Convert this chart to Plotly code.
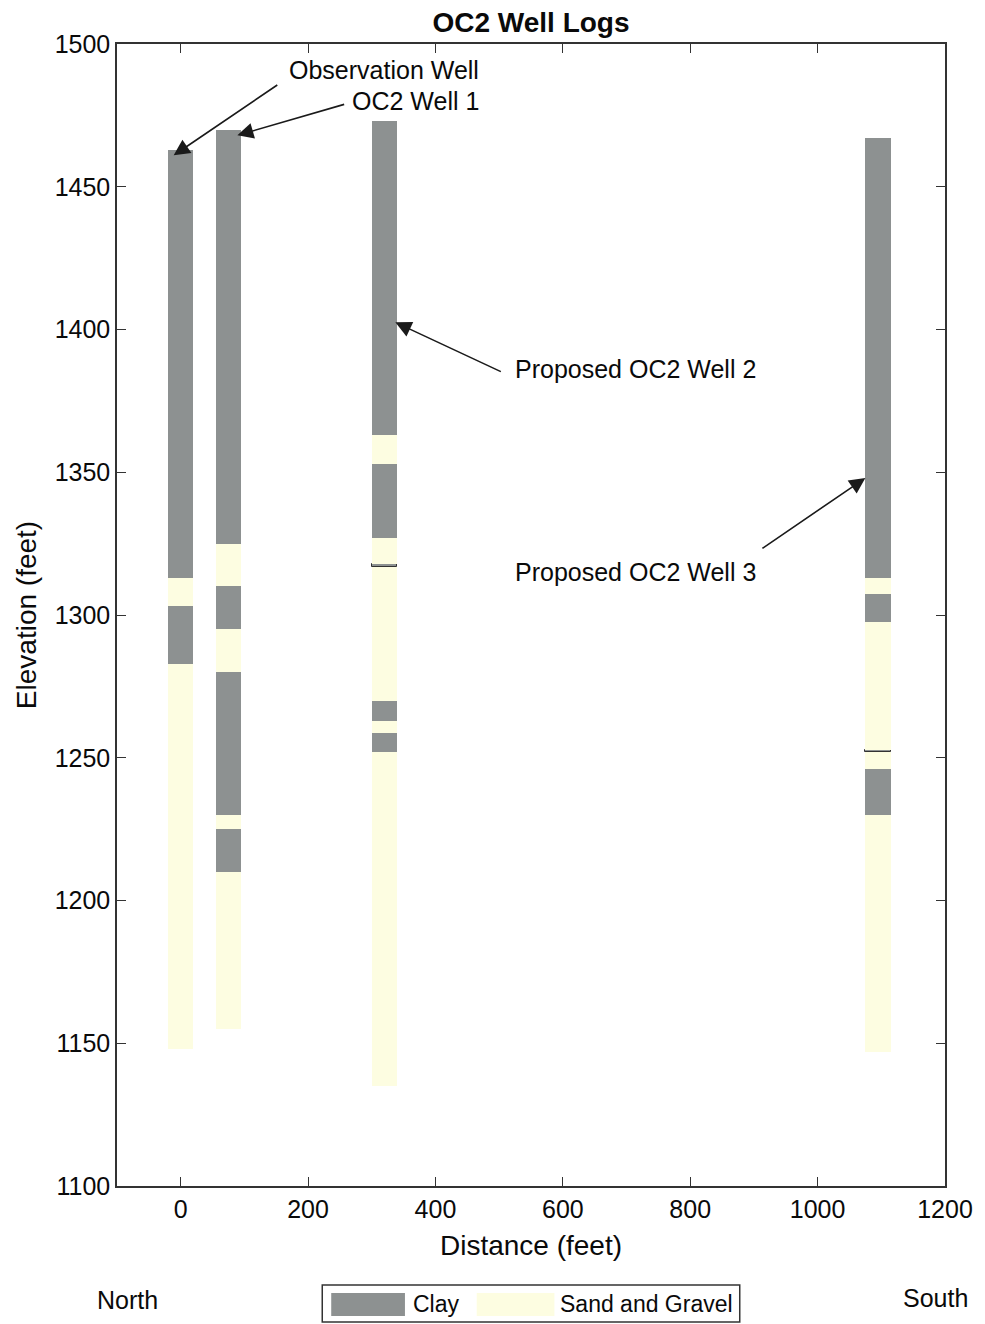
import plotly.graph_objects as go

# ---------------- data ----------------
well_names = ["Observation Well", "OC2 Well 1", "Proposed OC2 Well 2", "Proposed OC2 Well 3"]
well_x = [0, 75, 320, 1095]

# layer boundaries (elevation, feet) from top to bottom, and the material of each layer
obs_bounds = [1463, 1313, 1303, 1283, 1148]
obs_mats = ["Clay", "Sand and Gravel", "Clay", "Sand and Gravel"]

w1_bounds = [1470, 1325, 1310, 1295, 1280, 1230, 1225, 1210, 1155]
w1_mats = ["Clay", "Sand and Gravel", "Clay", "Sand and Gravel",
           "Clay", "Sand and Gravel", "Clay", "Sand and Gravel"]

w2_bounds = [1473, 1363, 1353, 1327, 1318, 1316.8, 1270, 1263, 1258.5, 1252, 1135]
w2_mats = ["Clay", "Sand and Gravel", "Clay", "Sand and Gravel", "Clay",
           "Sand and Gravel", "Clay", "Sand and Gravel", "Clay", "Sand and Gravel"]

w3_bounds = [1467, 1313, 1307.5, 1297.5, 1252.6, 1252.0, 1246, 1230, 1147]
w3_mats = ["Clay", "Sand and Gravel", "Clay", "Sand and Gravel", "Clay",
           "Sand and Gravel", "Clay", "Sand and Gravel"]

x_ticks = [0, 200, 400, 600, 800, 1000, 1200]
y_ticks = [1100, 1150, 1200, 1250, 1300, 1350, 1400, 1450, 1500]

materials = ["Clay", "Sand and Gravel"]
mat_colors = {"Clay": "#8d9191", "Sand and Gravel": "#fdfde1"}

FONT = "Arial, Liberation Sans, Helvetica, sans-serif"
TXT = "#0a0a0a"

fig = go.Figure()

wells = [(obs_bounds, obs_mats), (w1_bounds, w1_mats), (w2_bounds, w2_mats), (w3_bounds, w3_mats)]
for mat in materials:
    xs, bases, heights, lcols, lws = [], [], [], [], []
    for (bounds, mats), wx in zip(wells, well_x):
        for i, m in enumerate(mats):
            if m != mat:
                continue
            top, bot = bounds[i], bounds[i + 1]
            xs.append(wx)
            bases.append(bot)
            heights.append(top - bot)
            thin = (top - bot) < 2
            lcols.append("#333333" if thin else mat_colors[mat])
            lws.append(1 if thin else 0)
    fig.add_trace(go.Bar(
        x=xs, y=heights, base=bases, width=40, name=mat,
        marker=dict(color=mat_colors[mat], line=dict(color=lcols, width=lws)),
        showlegend=False,
    ))

# annotations with arrows
ann_font = dict(family=FONT, size=25, color=TXT)
arrows = [
    # text, text anchor x,y, xanchor, arrow head x,y, arrow tail x,y
    ("Observation Well", 472, 1491, "right", -11, 1461, 154, 1486),
    ("OC2 Well 1", 472, 1480, "right", 89, 1468, 259, 1479),
    ("Proposed OC2 Well 2", 521, 1386, "left", 337, 1402.5, 505, 1385),
    ("Proposed OC2 Well 3", 521, 1315, "left", 1075, 1348, 911, 1323),
]
for txt, tx, ty, xa, hx, hy, ax_, ay_ in arrows:
    fig.add_annotation(x=tx, y=ty, xref="x", yref="y", text=txt, showarrow=False,
                       xanchor=xa, yanchor="middle", font=ann_font)
    fig.add_annotation(x=hx, y=hy, ax=ax_, ay=ay_, xref="x", yref="y", axref="x", ayref="y",
                       text="", showarrow=True, arrowhead=2, arrowsize=2, arrowwidth=1.6,
                       arrowcolor="#1a1a1a")

# legend box drawn below the plot (paper coordinates)
def px_to_paper_x(px):
    return (px - 117) / (948 - 117)

def px_to_paper_y(py):
    return (1186 - py) / (1186 - 44)

shapes = [
    dict(type="rect", xref="paper", yref="paper",
         x0=px_to_paper_x(323), x1=px_to_paper_x(742), y0=px_to_paper_y(1322), y1=px_to_paper_y(1285),
         line=dict(color="#333333", width=1.5), fillcolor="white"),
    dict(type="rect", xref="paper", yref="paper",
         x0=px_to_paper_x(332), x1=px_to_paper_x(406), y0=px_to_paper_y(1316), y1=px_to_paper_y(1293),
         line=dict(width=0), fillcolor=mat_colors["Clay"]),
    dict(type="rect", xref="paper", yref="paper",
         x0=px_to_paper_x(478), x1=px_to_paper_x(556), y0=px_to_paper_y(1316), y1=px_to_paper_y(1293),
         line=dict(width=0), fillcolor=mat_colors["Sand and Gravel"]),
]
leg_font = dict(family=FONT, size=23, color=TXT)
side_font = dict(family=FONT, size=25, color=TXT)
fig.add_annotation(x=px_to_paper_x(412), y=px_to_paper_y(1304), xref="paper", yref="paper",
                   text="Clay", showarrow=False, xanchor="left", yanchor="middle", font=leg_font)
fig.add_annotation(x=px_to_paper_x(560), y=px_to_paper_y(1304), xref="paper", yref="paper",
                   text="Sand and Gravel", showarrow=False, xanchor="left", yanchor="middle", font=leg_font)
fig.add_annotation(x=px_to_paper_x(128), y=px_to_paper_y(1300), xref="paper", yref="paper",
                   text="North", showarrow=False, xanchor="center", yanchor="middle", font=side_font)
fig.add_annotation(x=px_to_paper_x(938), y=px_to_paper_y(1298), xref="paper", yref="paper",
                   text="South", showarrow=False, xanchor="center", yanchor="middle", font=side_font)

axis_common = dict(showline=True, linecolor="#333333", linewidth=1.5, mirror="ticks",
                   ticks="inside", ticklen=9, tickcolor="#333333", showgrid=False, zeroline=False,
                   tickfont=dict(family=FONT, size=25, color=TXT))

fig.update_layout(
    width=985, height=1324,
    margin=dict(l=117, r=37, t=44, b=138),
    paper_bgcolor="white", plot_bgcolor="white",
    barmode="overlay", bargap=0,
    font=dict(family=FONT, color=TXT),
    title=dict(text="<b>OC2 Well Logs</b>", x=0.5, xref="paper", y=1 - 22 / 1324, yref="container",
               xanchor="center", yanchor="middle", font=dict(family=FONT, size=28, color=TXT)),
    xaxis=dict(range=[-100, 1200], tickvals=x_ticks, ticktext=[str(v) for v in x_ticks],
               title=dict(text="Distance (feet)", standoff=14, font=dict(family=FONT, size=28, color=TXT)),
               **axis_common),
    yaxis=dict(range=[1100, 1500], tickvals=y_ticks, ticktext=[str(v) for v in y_ticks],
               title=dict(text="Elevation (feet)", standoff=10, font=dict(family=FONT, size=28, color=TXT)),
               **axis_common),
    shapes=shapes,
)

fig.write_html("out.html", config={"displayModeBar": False},
               post_script="document.body.style.margin='0';document.body.style.padding='0';")
